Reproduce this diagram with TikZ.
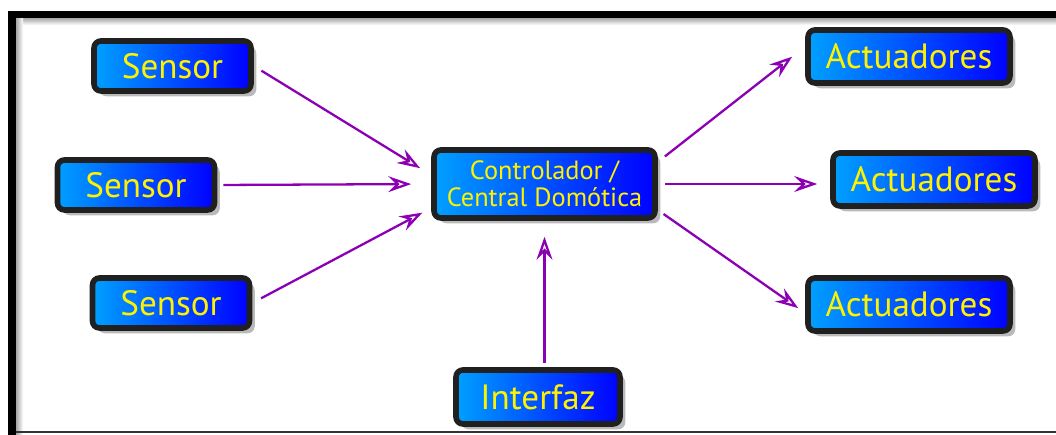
\documentclass[tikz,border=0pt]{standalone}
\usepackage{fontspec}
\setmainfont{PT Sans}
\usetikzlibrary{arrows.meta,shadows}

\definecolor{box_border}{RGB}{32,32,32}
\definecolor{box_light}{RGB}{0,160,255}
\definecolor{box_dark}{RGB}{0,0,255}
\definecolor{flow_purple}{RGB}{140,0,180}

\tikzset{
  box/.style={draw=box_border, line width=3.2pt, rounded corners=4pt,
    left color=box_light, right color=box_dark, text=yellow,
    font=\fontsize{20}{20}\selectfont, inner sep=0pt,
    drop shadow={shadow xshift=3pt, shadow yshift=-3pt, fill=black!45, opacity=0.6}},
  sensorbox/.style={minimum width=3.14cm, minimum height=1cm},
  actbox/.style={minimum width=4.04cm, minimum height=1.06cm},
  flow/.style={draw=flow_purple, line width=1.3pt,
    -{Stealth[length=13pt,width=9pt,inset=4.5pt,open,fill=white]}}
}

\begin{document}
\begin{tikzpicture}[x=0.02cm, y=-0.02cm]
\useasboundingbox (0,0) rectangle (1056,435);

% frame
\shade[top color=black!35, bottom color=white] (16,18) rectangle (1056,25);
\shade[left color=black!35, right color=white] (16,18) rectangle (23,435);
\fill[black] (8,11) rectangle (1056,18);
\fill[black] (8,11) rectangle (16,435);
\draw[black!80, line width=0.8pt] (16,432) -- (1056,432);

% boxes
\foreach \n/\x/\y in {s1/172.5/66, s2/136/185, s3/171/303}{
\node[box, sensorbox] (\n) at (\x,\y) {Sensor};
}
\foreach \n/\x/\y in {a1/909/56.5, a2/934/179.5, a3/909/304.5}{
\node[box, actbox] (\n) at (\x,\y) {Actuadores};
}
\node[box, minimum width=4.42cm, minimum height=1.36cm, align=center,
  font=\fontsize{15}{15}\selectfont] (ctrl) at (544.5,184) {Controlador /\\[0.5pt]Central Domótica};
\node[box, minimum width=3.28cm, minimum height=1.08cm] (itf) at (538,397) {Interfaz};

% arrows
\draw[flow, shorten <=0.18cm, shorten >=0.26cm] (s1.east) -- ([yshift=0.18cm]ctrl.west);
\draw[flow, shorten <=0.12cm, shorten >=0.4cm] (s2.east) -- (ctrl.west);
\draw[flow, shorten <=0.2cm, shorten >=0.2cm] (s3.east) -- ([yshift=-0.48cm]ctrl.west);
\draw[flow, shorten <=0.18cm, shorten >=0.33cm] ([yshift=0.44cm]ctrl.east) -- ([yshift=0.2cm]a1.west);
\draw[flow, shorten <=0.14cm, shorten >=0.26cm] (ctrl.east) -- (ctrl.east -| a2.west);
\draw[flow, shorten <=0.14cm, shorten >=0.17cm] ([yshift=-0.52cm]ctrl.east) -- ([yshift=-0.17cm]a3.west);
\draw[flow, shorten <=0.08cm, shorten >=0.32cm] (itf.north -| ctrl.south) -- (ctrl.south);
\end{tikzpicture}
\end{document}
